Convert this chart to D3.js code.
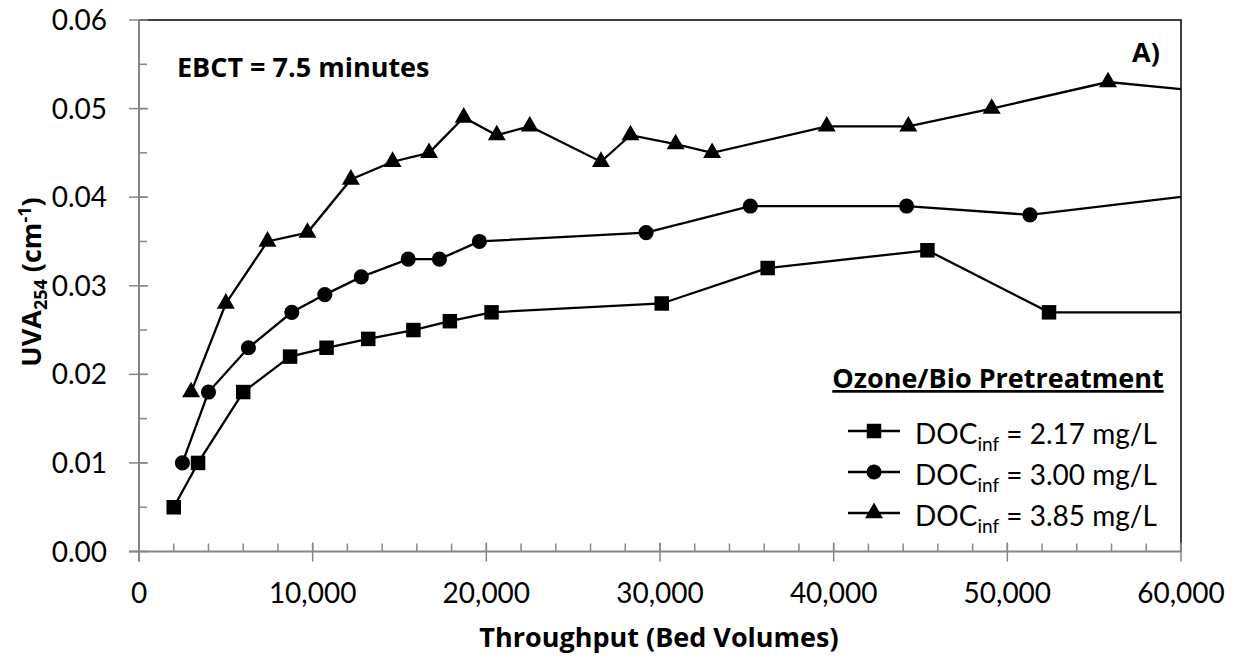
<!DOCTYPE html>
<html>
<head>
<meta charset="utf-8">
<script src="https://cdn.jsdelivr.net/npm/d3@7"></script>
<style>
  html, body { margin: 0; padding: 0; background: #fff; }
  svg { display: block; font-family: Lato, "Open Sans", sans-serif; }
  .bold { font-family: "Open Sans", Lato, sans-serif; font-weight: bold; }
</style>
</head>
<body>
<svg id="chart" width="1237" height="659"></svg>
<script>
// throughput (bed volumes) and UVA254 (cm-1) for each influent DOC
var bv217  = [2000, 3400, 6000, 8700, 10800, 13200, 15800, 17900, 20300, 30100, 36200, 45400, 52400, 62000];
var uva217 = [0.005, 0.010, 0.018, 0.022, 0.023, 0.024, 0.025, 0.026, 0.027, 0.028, 0.032, 0.034, 0.027, 0.027];

var bv300  = [2500, 4000, 6300, 8800, 10700, 12800, 15500, 17300, 19600, 29200, 35200, 44200, 51300, 62000];
var uva300 = [0.010, 0.018, 0.023, 0.027, 0.029, 0.031, 0.033, 0.033, 0.035, 0.036, 0.039, 0.039, 0.038, 0.0405];

var bv385  = [3000, 5000, 7400, 9700, 12200, 14600, 16700, 18700, 20600, 22500, 26600, 28300, 30900, 33000, 39600, 44300, 49100, 55800, 62000];
var uva385 = [0.018, 0.028, 0.035, 0.036, 0.042, 0.044, 0.045, 0.049, 0.047, 0.048, 0.044, 0.047, 0.046, 0.045, 0.048, 0.048, 0.050, 0.053, 0.0518];

var seriesNames = ['2.17', '3.00', '3.85'];
var seriesSymbols = [d3.symbolSquare, d3.symbolCircle, d3.symbolTriangle];

var xTicks = [0, 10000, 20000, 30000, 40000, 50000, 60000];
var yTicks = [0, 0.01, 0.02, 0.03, 0.04, 0.05, 0.06];

(function () {
    var svg = d3.select('#chart');
    var axisGrey = '#868686';

    var left = 139, right = 1181, top = 20, bottom = 551.5;

    var x = d3.scaleLinear().domain([0, 60000]).range([left, right]);
    var y = d3.scaleLinear().domain([0, 0.06]).range([bottom, top]);

    var series = [
        { name: seriesNames[0], bv: bv217, uva: uva217, symbol: seriesSymbols[0], size: 210 },
        { name: seriesNames[1], bv: bv300, uva: uva300, symbol: seriesSymbols[1], size: 180 },
        { name: seriesNames[2], bv: bv385, uva: uva385, symbol: seriesSymbols[2], size: 140 }
    ];

    svg.append('clipPath').attr('id', 'plotclip')
        .append('rect')
        .attr('x', left).attr('y', top)
        .attr('width', right - left).attr('height', bottom - top);

    // plot area border (top / right in black)
    svg.append('path')
        .attr('d', 'M' + left + ',' + top + 'H' + right + 'V' + bottom)
        .attr('fill', 'none')
        .attr('stroke', '#000')
        .attr('stroke-width', 1.5);

    // minor ticks
    var xMinor = d3.range(2000, 60001, 2000);
    var yMinor = d3.range(1, 12).map(function (i) { return i * 0.005; });

    svg.selectAll('.xminor').data(xMinor).enter().append('line')
        .attr('x1', function (d) { return x(d); }).attr('x2', function (d) { return x(d); })
        .attr('y1', bottom).attr('y2', bottom - 8)
        .attr('stroke', axisGrey).attr('stroke-width', 1.5);

    svg.selectAll('.yminor').data(yMinor).enter().append('line')
        .attr('x1', left).attr('x2', left + 8)
        .attr('y1', function (d) { return y(d); }).attr('y2', function (d) { return y(d); })
        .attr('stroke', axisGrey).attr('stroke-width', 1.5);

    // major ticks crossing the axes
    svg.selectAll('.xmajor').data(xTicks).enter().append('line')
        .attr('x1', function (d) { return x(d); }).attr('x2', function (d) { return x(d); })
        .attr('y1', bottom - 9).attr('y2', bottom + 10)
        .attr('stroke', axisGrey).attr('stroke-width', 1.5);

    svg.selectAll('.ymajor').data(yTicks).enter().append('line')
        .attr('x1', left - 10).attr('x2', left + 9)
        .attr('y1', function (d) { return y(d); }).attr('y2', function (d) { return y(d); })
        .attr('stroke', axisGrey).attr('stroke-width', 1.5);

    // axis lines
    svg.append('line')
        .attr('x1', left).attr('x2', left).attr('y1', top).attr('y2', bottom + 10)
        .attr('stroke', axisGrey).attr('stroke-width', 2);
    svg.append('line')
        .attr('x1', left - 10).attr('x2', right).attr('y1', bottom).attr('y2', bottom)
        .attr('stroke', axisGrey).attr('stroke-width', 2);

    // tick labels
    svg.selectAll('.xlab').data(xTicks).enter().append('text')
        .attr('x', function (d) { return x(d); })
        .attr('y', 603)
        .attr('text-anchor', 'middle')
        .attr('font-size', 28)
        .attr('fill', '#000')
        .text(d3.format(','));

    svg.selectAll('.ylab').data(yTicks).enter().append('text')
        .attr('x', 107)
        .attr('y', function (d) { return y(d) + 10; })
        .attr('text-anchor', 'end')
        .attr('font-size', 28)
        .attr('fill', '#000')
        .text(d3.format('.2f'));

    // axis titles
    svg.append('text')
        .attr('class', 'bold')
        .attr('x', 659)
        .attr('y', 647)
        .attr('text-anchor', 'middle')
        .attr('font-size', 27)
        .text('Throughput (Bed Volumes)');

    var yt = svg.append('text')
        .attr('class', 'bold')
        .attr('transform', 'translate(41,282) rotate(-90)')
        .attr('text-anchor', 'middle')
        .attr('font-size', 27);
    yt.append('tspan').text('UVA');
    yt.append('tspan').attr('font-size', 18).attr('dy', 6).text('254');
    yt.append('tspan').attr('dy', -6).text(' (cm');
    yt.append('tspan').attr('font-size', 18).attr('dy', -10).text('-1');
    yt.append('tspan').attr('dy', 10).text(')');

    // series lines and markers
    var line = d3.line()
        .x(function (d) { return x(d[0]); })
        .y(function (d) { return y(d[1]); });

    var plot = svg.append('g').attr('clip-path', 'url(#plotclip)');

    series.forEach(function (s) {
        var pts = s.bv.map(function (v, i) { return [v, s.uva[i]]; });
        plot.append('path')
            .datum(pts)
            .attr('d', line)
            .attr('fill', 'none')
            .attr('stroke', '#000')
            .attr('stroke-width', 2.3);

        plot.selectAll(null)
            .data(pts.filter(function (p) { return p[0] <= 60000; }))
            .enter().append('path')
            .attr('transform', function (p) { return 'translate(' + x(p[0]) + ',' + y(p[1]) + ')'; })
            .attr('d', d3.symbol().type(s.symbol).size(s.size))
            .attr('fill', '#000');
    });

    // annotations
    svg.append('text')
        .attr('class', 'bold')
        .attr('x', 177).attr('y', 77)
        .attr('font-size', 27)
        .text('EBCT = 7.5 minutes');

    svg.append('text')
        .attr('class', 'bold')
        .attr('x', 1146).attr('y', 62)
        .attr('text-anchor', 'middle')
        .attr('font-size', 27)
        .text('A)');

    /* legend */
    svg.append('text')
        .attr('class', 'bold')
        .attr('x', 998).attr('y', 388)
        .attr('text-anchor', 'middle')
        .attr('font-size', 27)
        .attr('text-decoration', 'underline')
        .text('Ozone/Bio Pretreatment');

    var legendY = 431;
    var lineHeight = 41;

    series.forEach(function (s, i) {
        var ly = legendY + i * lineHeight;
        svg.append('line')
            .attr('x1', 848).attr('x2', 900)
            .attr('y1', ly).attr('y2', ly)
            .attr('stroke', '#000').attr('stroke-width', 2.3);
        svg.append('path')
            .attr('transform', 'translate(874,' + ly + ')')
            .attr('d', d3.symbol().type(s.symbol).size(s.size))
            .attr('fill', '#000');

        var t = svg.append('text')
            .attr('x', 915).attr('y', ly + 13)
            .attr('font-size', 28);
        t.append('tspan').text('DOC');
        t.append('tspan').attr('font-size', 19).attr('dy', 7).text('inf');
        t.append('tspan').attr('dy', -7).text(' = ' + s.name + ' mg/L');
    });
})();
</script>
</body>
</html>
